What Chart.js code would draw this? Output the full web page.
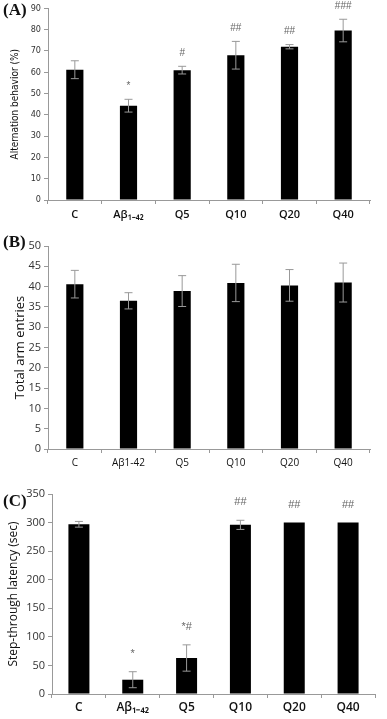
<!DOCTYPE html>
<html>
<head>
<meta charset="utf-8">
<script src="https://cdn.jsdelivr.net/npm/chart.js@4"></script>
<style>
  html, body { margin: 0; padding: 0; background: #fff; }
  body { width: 387px; height: 719px; position: relative; overflow: hidden; }
  .panel { position: absolute; left: 0; width: 387px; }
  .tag { position: absolute; left: 3px; font: bold 17px "Liberation Serif", serif; color: #111; line-height: 17px; }
</style>
</head>
<body>
<div class="panel" style="top:0;height:230px"><canvas id="chartA"></canvas></div>
<div class="panel" style="top:230px;height:250px"><canvas id="chartB"></canvas></div>
<div class="panel" style="top:480px;height:239px"><canvas id="chartC"></canvas></div>
<div class="tag" style="top:1px">(A)</div>
<div class="tag" style="top:233px">(B)</div>
<div class="tag" style="top:492px">(C)</div>
<script>
// groups
const groupsSub = ["C", "A\u03B2\u2081\u208B\u2084\u2082", "Q5", "Q10", "Q20", "Q40"];
const groupsPlain = ["C", "A\u03B21-42", "Q5", "Q10", "Q20", "Q40"];

// (A) Y-maze alternation
const alternation = [61.2, 44.3, 61.0, 68.0, 72.0, 79.6];
const alternationErr = [4.2, 3.0, 1.8, 6.5, 1.0, 5.3];
const alternationMarks = ["", "*", "#", "##", "##", "###"];

// (B) total arm entries
const armEntries = [40.6, 36.5, 38.9, 40.9, 40.3, 41.0];
const armEntriesErr = [3.4, 2.0, 3.8, 4.6, 3.9, 4.8];

// (C) passive avoidance
const latency = [297, 25, 63, 296, 300, 300];
const latencyErr = [5, 14, 23, 8, 0, 0];
const latencyMarks = ["", "*", "*#", "##", "##", "##"];

const errPlugin = {
  id: "errbars",
  afterDatasetsDraw(chart, args, opts) {
    const meta = chart.getDatasetMeta(0);
    const y = chart.scales.y;
    const ctx = chart.ctx;
    const vals = chart.data.datasets[0].data;
    ctx.save();
    meta.data.forEach((bar, i) => {
      const e = opts.err[i];
      const v = vals[i];
      const x = bar.x;
      const top = y.getPixelForValue(v + e);
      const bot = y.getPixelForValue(v - e);
      if (e > 0) {
        ctx.strokeStyle = opts.color;
        ctx.lineWidth = 1;
        ctx.beginPath();
        ctx.moveTo(x, top);
        ctx.lineTo(x, bot);
        ctx.moveTo(x - opts.cap, top);
        ctx.lineTo(x + opts.cap, top);
        ctx.moveTo(x - opts.cap, bot);
        ctx.lineTo(x + opts.cap, bot);
        ctx.stroke();
      }
      if (opts.marks && opts.marks[i]) {
        ctx.fillStyle = "#666";
        ctx.font = opts.markFont;
        ctx.textAlign = "center";
        ctx.textBaseline = "middle";
        ctx.fillText(opts.marks[i], x, top - opts.gap);
      }
    });
    ctx.restore();
  }
};

function makeChart(id, cfg) {
  return new Chart(document.getElementById(id), {
    type: "bar",
    data: {
      labels: cfg.labels,
      datasets: [{
        data: cfg.values,
        backgroundColor: "#000",
        barPercentage: cfg.barPct,
        categoryPercentage: 1
      }]
    },
    plugins: [errPlugin],
    options: {
      responsive: true,
      maintainAspectRatio: false,
      animation: false,
      layout: { padding: cfg.padding },
      plugins: {
        legend: { display: false },
        tooltip: { enabled: false },
        errbars: { err: cfg.err, marks: cfg.marks, color: "#999", cap: 4, gap: cfg.gap, markFont: cfg.markFont }
      },
      scales: {
        x: {
          grid: { drawOnChartArea: false, drawTicks: true, tickLength: 4, color: "#999" },
          border: { color: "#999" },
          ticks: { color: "#111", font: cfg.xFont, padding: cfg.xPad, maxRotation: 0 },
          afterFit: (s) => { s.height = cfg.xHeight; }
        },
        y: {
          min: 0,
          max: cfg.max,
          grid: { drawOnChartArea: false, drawTicks: true, tickLength: 4, color: "#999" },
          border: { color: "#999" },
          ticks: { stepSize: cfg.step, color: "#333", font: cfg.yFont, padding: 3 },
          title: { display: true, text: cfg.title, color: "#111", font: cfg.titleFont, padding: cfg.titlePad },
          afterFit: (s) => { s.width = cfg.yWidth; }
        }
      }
    }
  });
}

makeChart("chartA", {
  labels: groupsSub, values: alternation, err: alternationErr, marks: alternationMarks,
  barPct: 0.32, max: 90, step: 10,
  title: "Alternation behavior (%)",
  titleFont: { family: "'Liberation Sans Narrow', 'DejaVu Sans Condensed', sans-serif", size: 10 },
  titlePad: { top: 9, bottom: 2 },
  yFont: { family: "'Liberation Sans Narrow', 'DejaVu Sans Condensed', sans-serif", size: 9 },
  xFont: { family: "'Open Sans', sans-serif", size: 11, weight: "600" },
  xPad: 4, xHeight: 30, yWidth: 48, gap: 13, markFont: "10px 'Liberation Sans Narrow', sans-serif",
  padding: { top: 7, right: 17, left: 0, bottom: 0 }
});

makeChart("chartB", {
  labels: groupsPlain, values: armEntries, err: armEntriesErr, marks: null,
  barPct: 0.32, max: 50, step: 5,
  title: "Total arm entries",
  titleFont: { family: "'Open Sans', sans-serif", size: 13 },
  titlePad: { top: 12, bottom: 2 },
  yFont: { family: "'Open Sans', sans-serif", size: 11 },
  xFont: { family: "'Open Sans', sans-serif", size: 10 },
  xPad: 4, xHeight: 31, yWidth: 48, gap: 12, markFont: "10px sans-serif",
  padding: { top: 16, right: 17, left: 0, bottom: 0 }
});

makeChart("chartC", {
  labels: groupsSub, values: latency, err: latencyErr, marks: latencyMarks,
  barPct: 0.39, max: 350, step: 50,
  title: "Step-through latency (sec)",
  titleFont: { family: "'Open Sans', sans-serif", size: 12 },
  titlePad: { top: 6, bottom: 2 },
  yFont: { family: "'Open Sans', sans-serif", size: 11 },
  xFont: { family: "'Open Sans', sans-serif", size: 12, weight: "600" },
  xPad: 2, xHeight: 25, yWidth: 52, gap: 18, markFont: "11px 'Liberation Sans', sans-serif",
  padding: { top: 14, right: 12, left: 0, bottom: 0 }
});
</script>
</body>
</html>
